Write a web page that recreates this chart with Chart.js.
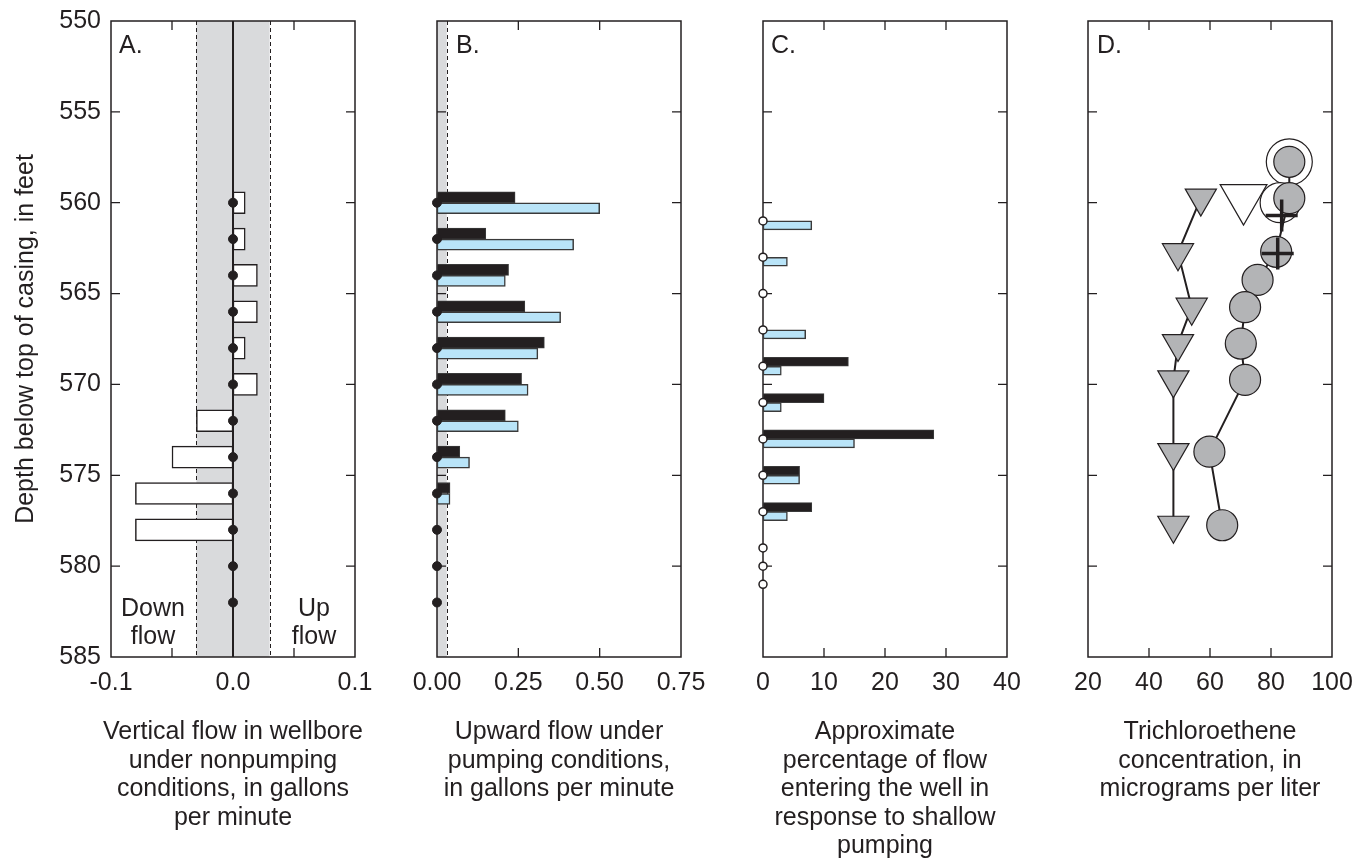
<!DOCTYPE html>
<html>
<head>
<meta charset="utf-8">
<title>Wellbore flow and trichloroethene profiles</title>
<script src="https://cdn.jsdelivr.net/npm/chart.js@4.4.1/dist/chart.umd.min.js"></script>
<style>
  html, body { margin: 0; padding: 0; background: #fff; }
  #wrap { position: relative; width: 1365px; height: 859px; overflow: hidden; }
  #wrap canvas { position: absolute; top: 0; }
  .txt { position: absolute; font-family: "Liberation Sans", Arial, Helvetica, sans-serif;
         color: #231f20; font-size: 25px; line-height: 28.5px; white-space: nowrap; }
  .title { width: 340px; text-align: center; top: 716px; }
  .letter { top: 32px; line-height: 25px; }
  .note { text-align: center; width: 80px; line-height: 28px; }
</style>
</head>
<body>
<div id="wrap">
  <canvas id="panelA"></canvas>
  <canvas id="panelB"></canvas>
  <canvas id="panelC"></canvas>
  <canvas id="panelD"></canvas>

  <div class="txt letter" style="left:119px">A.</div>
  <div class="txt letter" style="left:456px">B.</div>
  <div class="txt letter" style="left:771px">C.</div>
  <div class="txt letter" style="left:1097px">D.</div>

  <div class="txt note" style="left:113px; top:593px">Down<br>flow</div>
  <div class="txt note" style="left:274px; top:593px">Up<br>flow</div>

  <div class="txt title" style="left:63px">Vertical flow in wellbore<br>under nonpumping<br>conditions, in gallons<br>per minute</div>
  <div class="txt title" style="left:389px">Upward flow under<br>pumping conditions,<br>in gallons per minute</div>
  <div class="txt title" style="left:715px">Approximate<br>percentage of flow<br>entering the well in<br>response to shallow<br>pumping</div>
  <div class="txt title" style="left:1040px">Trichloroethene<br>concentration, in<br>micrograms per liter</div>
</div>
<script>
const INK = "#231f20";
const SHADE = "#d9dadc";
const BLUE = "#b9e4f8";
const GRAY = "#b3b4b6";
const FONT = '"Liberation Sans", Arial, Helvetica, sans-serif';

// depth axis, feet below top of casing
const depthTicks = [550, 555, 560, 565, 570, 575, 580, 585];
const yTitle = "Depth below top of casing, in feet";

// A. vertical flow, nonpumping (gal/min)
const pointDepthsA = [560, 562, 564, 566, 568, 570, 572, 574, 576, 578, 580, 582];
const barDepthsA = [560, 562, 564, 566, 568, 570, 572, 574, 576, 578];
const flowA = [0.01, 0.01, 0.02, 0.02, 0.01, 0.02, -0.03, -0.05, -0.08, -0.08];
const bandA = [-0.03, 0.03];
const xTicksA = [-0.1, -0.05, 0, 0.05, 0.1];
const xLabelsA = ["-0.1", "", "0.0", "", "0.1"];

// B. upward flow under pumping (gal/min)
const pointDepthsB = [560, 562, 564, 566, 568, 570, 572, 574, 576, 578, 580, 582];
const barDepthsB = [560, 562, 564, 566, 568, 570, 572, 574, 576];
const darkB = [0.24, 0.15, 0.22, 0.27, 0.33, 0.26, 0.21, 0.07, 0.04];
const blueB = [0.50, 0.42, 0.21, 0.38, 0.31, 0.28, 0.25, 0.10, 0.04];
const bandB = [0, 0.03];
const xTicksB = [0, 0.25, 0.5, 0.75];
const xLabelsB = ["0.00", "0.25", "0.50", "0.75"];

// C. percentage of flow entering the well
const pointDepthsC = [561, 563, 565, 567, 569, 571, 573, 575, 577, 579, 580, 581];
const darkDepthsC = [569, 571, 573, 575, 577];
const darkC = [14, 10, 28, 6, 8];
const blueDepthsC = [561, 563, 567, 569, 571, 573, 575, 577];
const blueC = [8, 4, 7, 3, 3, 15, 6, 4];
const xTicksC = [0, 10, 20, 30, 40];
const xLabelsC = ["0", "10", "20", "30", "40"];

// D. trichloroethene (ug/L)
const triDepths = [559.75, 562.75, 565.75, 567.75, 569.75, 573.75, 577.75];
const triConc = [57, 49.5, 54, 49.5, 48, 48, 48];
const circDepths = [557.75, 559.75, 562.7, 564.25, 565.75, 567.75, 569.75, 573.7, 577.75];
const circConc = [86, 86, 81.7, 75.6, 71.5, 70.1, 71.5, 59.8, 64];
const ringDepths = [557.75, 560];
const ringConc = [86, 83];
const bigTriDepths = [559.75];
const bigTriConc = [71];
const crossDepths = [560.7, 562.8];
const crossConc = [83.5, 82.2];
const xTicksD = [20, 40, 60, 80, 100];
const xLabelsD = ["20", "40", "60", "80", "100"];

const PLOT_TOP = 21, PLOT_BOTTOM = 657, PLOT_W = 244, H = 859, TICK = 9;

Chart.defaults.font.family = FONT;
Chart.defaults.color = INK;

const pts = (xs, ys) => ys.map((y, i) => ({ x: xs[i], y: y }));

const panelDeco = {
    id: "panelDeco",
    beforeDatasetsDraw(chart, args, opts) {
        const { ctx, chartArea: a } = chart;
        const x = chart.scales.x;
        const y = chart.scales.y;
        ctx.save();
        if (opts.band) {
            const x0 = x.getPixelForValue(opts.band[0]);
            const x1 = x.getPixelForValue(opts.band[1]);
            ctx.fillStyle = SHADE;
            ctx.fillRect(x0, a.top, x1 - x0, a.bottom - a.top);
            ctx.strokeStyle = INK;
            ctx.lineWidth = 1;
            ctx.setLineDash([4, 3]);
            for (const v of opts.band) {
                if (v === x.min) continue;
                const px = Math.round(x.getPixelForValue(v)) + 0.5;
                ctx.beginPath();
                ctx.moveTo(px, a.top);
                ctx.lineTo(px, a.bottom);
                ctx.stroke();
            }
            ctx.setLineDash([]);
        }
        if (opts.zeroLine) {
            const px = x.getPixelForValue(0);
            ctx.strokeStyle = INK;
            ctx.lineWidth = 2;
            ctx.beginPath();
            ctx.moveTo(px, a.top);
            ctx.lineTo(px, a.bottom);
            ctx.stroke();
        }
        ctx.strokeStyle = INK;
        ctx.lineWidth = 1.5;
        ctx.strokeRect(a.left, a.top, a.right - a.left, a.bottom - a.top);
        ctx.lineWidth = 1.3;
        ctx.beginPath();
        for (const v of opts.xTicks) {
            if (v <= x.min || v >= x.max) continue;
            const px = x.getPixelForValue(v);
            ctx.moveTo(px, a.bottom);
            ctx.lineTo(px, a.bottom - TICK);
            ctx.moveTo(px, a.top);
            ctx.lineTo(px, a.top + TICK);
        }
        for (const d of depthTicks) {
            if (d <= y.min || d >= y.max) continue;
            const py = y.getPixelForValue(d);
            ctx.moveTo(a.left, py);
            ctx.lineTo(a.left + TICK, py);
            ctx.moveTo(a.right, py);
            ctx.lineTo(a.right - TICK, py);
        }
        ctx.stroke();
        ctx.restore();
    },
};

function makePanel(id, plotLeft, showY, xMin, xMax, xTicks, xLabels, datasets, deco) {
    const padL = showY ? 0 : 40;
    const padR = 25;
    const yW = showY ? plotLeft : 0;
    const canvas = document.getElementById(id);
    canvas.width = yW + padL + PLOT_W + padR;
    canvas.height = H;
    canvas.style.left = (plotLeft - yW - padL) + "px";

    const yScale = {
        type: "linear",
        min: 550,
        max: 585,
        reverse: true,
        offset: false,
        display: showY,
        afterBuildTicks: (s) => { s.ticks = depthTicks.map((v) => ({ value: v })); },
        grid: { display: false, drawTicks: false, offset: false },
        border: { display: false },
        ticks: { font: { size: 25 }, color: INK, padding: 10 },
        title: { display: true, text: yTitle, font: { size: 25 }, color: INK, padding: { top: 11 } },
        afterFit: (s) => {
            s.width = yW;
            s.paddingTop = 0;
            s.paddingBottom = 0;
        },
    };

    return new Chart(canvas.getContext("2d"), {
        type: "scatter",
        data: { datasets: datasets },
        options: {
            responsive: false,
            animation: false,
            devicePixelRatio: 1,
            layout: { autoPadding: false, padding: { left: padL, right: padR, top: PLOT_TOP, bottom: 0 } },
            plugins: { legend: { display: false }, tooltip: { enabled: false }, panelDeco: Object.assign({ xTicks: xTicks }, deco) },
            scales: {
                x: {
                    type: "linear",
                    min: xMin,
                    max: xMax,
                    offset: false,
                    afterBuildTicks: (s) => { s.ticks = xTicks.map((v) => ({ value: v })); },
                    grid: { display: false, drawTicks: false },
                    border: { display: false },
                    ticks: {
                        font: { size: 25 },
                        color: INK,
                        padding: 11,
                        autoSkip: false,
                        maxRotation: 0,
                        callback: (v, i) => xLabels[i],
                    },
                    afterFit: (s) => {
                        s.height = H - PLOT_BOTTOM;
                        s.paddingLeft = 0;
                        s.paddingRight = 0;
                    },
                },
                y: yScale,
            },
        },
        plugins: [panelDeco],
    });
}

// Panel A
makePanel("panelA", 111, true, -0.1, 0.1, xTicksA, xLabelsA, [
    {
        type: "scatter",
        data: pointDepthsA.map((d) => ({ x: 0, y: d })),
        pointRadius: 4.5,
        pointBackgroundColor: INK,
        pointBorderColor: INK,
        clip: false,
    },
    {
        type: "bar",
        indexAxis: "y",
        data: pts(flowA, barDepthsA),
        barThickness: 22,
        backgroundColor: "#ffffff",
        borderColor: INK,
        borderWidth: 1.5,
        borderSkipped: false,
    },
], { band: bandA, zeroLine: true });

// Panel B
makePanel("panelB", 437, false, 0, 0.75, xTicksB, xLabelsB, [
    {
        type: "scatter",
        data: pointDepthsB.map((d) => ({ x: 0, y: d })),
        pointRadius: 4.5,
        pointBackgroundColor: INK,
        pointBorderColor: INK,
        clip: false,
    },
    {
        type: "bar",
        indexAxis: "y",
        stack: "dark",
        data: pts(darkB, barDepthsB),
        barThickness: 11,
        backgroundColor: INK,
        borderColor: "#3a3a3a",
        borderWidth: 1,
        borderSkipped: false,
    },
    {
        type: "bar",
        indexAxis: "y",
        stack: "blue",
        data: pts(blueB, barDepthsB),
        barThickness: 11,
        backgroundColor: BLUE,
        borderColor: "#3a3a3a",
        borderWidth: 1.5,
        borderSkipped: false,
    },
], { band: bandB });

// Panel C
makePanel("panelC", 763, false, 0, 40, xTicksC, xLabelsC, [
    {
        type: "scatter",
        data: pointDepthsC.map((d) => ({ x: 0, y: d })),
        pointRadius: 4,
        pointBackgroundColor: "#ffffff",
        pointBorderColor: INK,
        pointBorderWidth: 1.5,
        clip: false,
    },
    {
        type: "bar",
        indexAxis: "y",
        stack: "dark",
        data: pts(darkC, darkDepthsC),
        barThickness: 9,
        backgroundColor: INK,
        borderColor: "#3a3a3a",
        borderWidth: 1,
        borderSkipped: false,
    },
    {
        type: "bar",
        indexAxis: "y",
        stack: "blue",
        data: pts(blueC, blueDepthsC),
        barThickness: 9,
        backgroundColor: BLUE,
        borderColor: "#3a3a3a",
        borderWidth: 1.5,
        borderSkipped: false,
    },
], {});

// Panel D
makePanel("panelD", 1088, false, 20, 100, xTicksD, xLabelsD, [
    {
        data: pts(crossConc, crossDepths),
        pointStyle: "cross",
        pointRadius: 16,
        pointBorderColor: INK,
        pointBorderWidth: 3.5,
        order: 1,
    },
    {
        data: pts(circConc, circDepths),
        showLine: true,
        borderColor: INK,
        borderWidth: 2,
        pointStyle: "circle",
        pointRadius: 15.5,
        pointBackgroundColor: GRAY,
        pointBorderColor: INK,
        pointBorderWidth: 1.2,
        order: 2,
    },
    {
        data: pts(bigTriConc, bigTriDepths),
        pointStyle: "triangle",
        pointRotation: 180,
        pointRadius: 27,
        pointBackgroundColor: "#ffffff",
        pointBorderColor: INK,
        pointBorderWidth: 1.2,
        order: 3,
    },
    {
        data: pts(ringConc, ringDepths),
        pointStyle: "circle",
        pointRadius: [23, 20],
        pointBackgroundColor: "#ffffff",
        pointBorderColor: INK,
        pointBorderWidth: 1.2,
        order: 4,
    },
    {
        data: pts(triConc, triDepths),
        showLine: true,
        borderColor: INK,
        borderWidth: 2,
        pointStyle: "triangle",
        pointRotation: 180,
        pointRadius: 18,
        pointBackgroundColor: GRAY,
        pointBorderColor: INK,
        pointBorderWidth: 1.2,
        order: 5,
    },
], {});
</script>
</body>
</html>
